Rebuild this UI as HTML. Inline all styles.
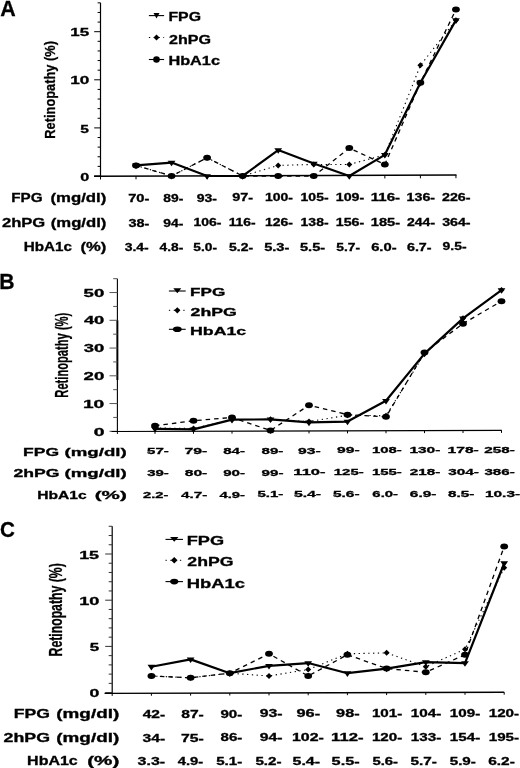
<!DOCTYPE html>
<html><head><meta charset="utf-8"><style>
html,body{margin:0;padding:0;background:#fff;width:520px;height:768px;overflow:hidden}
svg{display:block;filter:grayscale(1)}
text{font-family:"Liberation Sans",sans-serif;font-weight:bold;fill:#000;stroke:#000;stroke-width:0.3px}
</style></head><body>
<svg width="520" height="768" viewBox="0 0 520 768">
<rect width="520" height="768" fill="#fff"/>
<line x1="100.50" y1="2.84" x2="100.50" y2="176.50" stroke="#000" stroke-width="1.2" />
<line x1="94.20" y1="176.00" x2="100.50" y2="176.00" stroke="#000" stroke-width="1.0" />
<line x1="94.20" y1="127.90" x2="100.50" y2="127.90" stroke="#000" stroke-width="1.0" />
<line x1="94.20" y1="79.80" x2="100.50" y2="79.80" stroke="#000" stroke-width="1.0" />
<line x1="94.20" y1="31.70" x2="100.50" y2="31.70" stroke="#000" stroke-width="1.0" />
<line x1="97.60" y1="166.38" x2="100.50" y2="166.38" stroke="#000" stroke-width="1.0" />
<line x1="97.60" y1="156.76" x2="100.50" y2="156.76" stroke="#000" stroke-width="1.0" />
<line x1="97.60" y1="147.14" x2="100.50" y2="147.14" stroke="#000" stroke-width="1.0" />
<line x1="97.60" y1="137.52" x2="100.50" y2="137.52" stroke="#000" stroke-width="1.0" />
<line x1="97.60" y1="118.28" x2="100.50" y2="118.28" stroke="#000" stroke-width="1.0" />
<line x1="97.60" y1="108.66" x2="100.50" y2="108.66" stroke="#000" stroke-width="1.0" />
<line x1="97.60" y1="99.04" x2="100.50" y2="99.04" stroke="#000" stroke-width="1.0" />
<line x1="97.60" y1="89.42" x2="100.50" y2="89.42" stroke="#000" stroke-width="1.0" />
<line x1="97.60" y1="70.18" x2="100.50" y2="70.18" stroke="#000" stroke-width="1.0" />
<line x1="97.60" y1="60.56" x2="100.50" y2="60.56" stroke="#000" stroke-width="1.0" />
<line x1="97.60" y1="50.94" x2="100.50" y2="50.94" stroke="#000" stroke-width="1.0" />
<line x1="97.60" y1="41.32" x2="100.50" y2="41.32" stroke="#000" stroke-width="1.0" />
<line x1="97.60" y1="22.08" x2="100.50" y2="22.08" stroke="#000" stroke-width="1.0" />
<line x1="97.60" y1="12.46" x2="100.50" y2="12.46" stroke="#000" stroke-width="1.0" />
<line x1="97.60" y1="2.84" x2="100.50" y2="2.84" stroke="#000" stroke-width="1.0" />
<line x1="94.00" y1="176.30" x2="456.50" y2="175.00" stroke="#000" stroke-width="1.4" />
<line x1="100.50" y1="176.28" x2="100.50" y2="179.48" stroke="#000" stroke-width="1.0" />
<line x1="136.00" y1="176.15" x2="136.00" y2="179.35" stroke="#000" stroke-width="1.0" />
<line x1="171.55" y1="176.02" x2="171.55" y2="179.22" stroke="#000" stroke-width="1.0" />
<line x1="207.10" y1="175.89" x2="207.10" y2="179.09" stroke="#000" stroke-width="1.0" />
<line x1="242.65" y1="175.77" x2="242.65" y2="178.97" stroke="#000" stroke-width="1.0" />
<line x1="278.20" y1="175.64" x2="278.20" y2="178.84" stroke="#000" stroke-width="1.0" />
<line x1="313.75" y1="175.51" x2="313.75" y2="178.71" stroke="#000" stroke-width="1.0" />
<line x1="349.30" y1="175.38" x2="349.30" y2="178.58" stroke="#000" stroke-width="1.0" />
<line x1="384.85" y1="175.26" x2="384.85" y2="178.46" stroke="#000" stroke-width="1.0" />
<line x1="420.40" y1="175.13" x2="420.40" y2="178.33" stroke="#000" stroke-width="1.0" />
<line x1="455.95" y1="175.00" x2="455.95" y2="178.20" stroke="#000" stroke-width="1.0" />
<polyline points="136.00,165.42 171.55,176.00 207.10,157.72 242.65,176.00 278.20,165.42 313.75,164.46 349.30,164.46 384.85,154.84 420.40,65.37 455.95,20.16" fill="none" stroke="#000" stroke-width="1.1" stroke-linejoin="round" stroke-dasharray="1.3 3.5" stroke-linecap="butt"/>
<polyline points="136.00,165.42 171.55,176.00 207.10,157.72 242.65,176.00 278.20,176.00 313.75,176.00 349.30,148.10 384.85,164.46 420.40,82.69 455.95,9.57" fill="none" stroke="#000" stroke-width="1.3" stroke-linejoin="round" stroke-dasharray="4.5 4"/>
<polyline points="136.00,165.42 171.55,162.53 207.10,176.00 242.65,176.00 278.20,150.03 313.75,163.49 349.30,176.00 384.85,154.84 420.40,82.69 455.95,20.16" fill="none" stroke="#000" stroke-width="2.2" stroke-linejoin="round" />
<path d="M136.00,162.42 L139.00,165.42 L136.00,168.42 L133.00,165.42 Z" fill="#000"/>
<path d="M171.55,173.00 L174.55,176.00 L171.55,179.00 L168.55,176.00 Z" fill="#000"/>
<path d="M207.10,154.72 L210.10,157.72 L207.10,160.72 L204.10,157.72 Z" fill="#000"/>
<path d="M242.65,173.00 L245.65,176.00 L242.65,179.00 L239.65,176.00 Z" fill="#000"/>
<path d="M278.20,162.42 L281.20,165.42 L278.20,168.42 L275.20,165.42 Z" fill="#000"/>
<path d="M313.75,161.46 L316.75,164.46 L313.75,167.46 L310.75,164.46 Z" fill="#000"/>
<path d="M349.30,161.46 L352.30,164.46 L349.30,167.46 L346.30,164.46 Z" fill="#000"/>
<path d="M384.85,151.84 L387.85,154.84 L384.85,157.84 L381.85,154.84 Z" fill="#000"/>
<path d="M420.40,62.37 L423.40,65.37 L420.40,68.37 L417.40,65.37 Z" fill="#000"/>
<path d="M455.95,17.16 L458.95,20.16 L455.95,23.16 L452.95,20.16 Z" fill="#000"/>
<ellipse cx="136.00" cy="165.42" rx="3.90" ry="3.00" fill="#000"/>
<ellipse cx="171.55" cy="176.00" rx="3.90" ry="3.00" fill="#000"/>
<ellipse cx="207.10" cy="157.72" rx="3.90" ry="3.00" fill="#000"/>
<ellipse cx="242.65" cy="176.00" rx="3.90" ry="3.00" fill="#000"/>
<ellipse cx="278.20" cy="176.00" rx="3.90" ry="3.00" fill="#000"/>
<ellipse cx="313.75" cy="176.00" rx="3.90" ry="3.00" fill="#000"/>
<ellipse cx="349.30" cy="148.10" rx="3.90" ry="3.00" fill="#000"/>
<ellipse cx="384.85" cy="164.46" rx="3.90" ry="3.00" fill="#000"/>
<ellipse cx="420.40" cy="82.69" rx="3.90" ry="3.00" fill="#000"/>
<ellipse cx="455.95" cy="9.57" rx="3.90" ry="3.00" fill="#000"/>
<path d="M132.10,163.55 L139.90,163.55 L136.00,169.15 Z" fill="#000"/>
<path d="M167.65,160.67 L175.45,160.67 L171.55,166.27 Z" fill="#000"/>
<path d="M203.20,174.13 L211.00,174.13 L207.10,179.73 Z" fill="#000"/>
<path d="M238.75,174.13 L246.55,174.13 L242.65,179.73 Z" fill="#000"/>
<path d="M274.30,148.16 L282.10,148.16 L278.20,153.76 Z" fill="#000"/>
<path d="M309.85,161.63 L317.65,161.63 L313.75,167.23 Z" fill="#000"/>
<path d="M345.40,174.13 L353.20,174.13 L349.30,179.73 Z" fill="#000"/>
<path d="M380.95,152.97 L388.75,152.97 L384.85,158.57 Z" fill="#000"/>
<path d="M416.50,80.82 L424.30,80.82 L420.40,86.42 Z" fill="#000"/>
<path d="M452.05,18.29 L459.85,18.29 L455.95,23.89 Z" fill="#000"/>
<line x1="117.40" y1="278.68" x2="117.40" y2="431.80" stroke="#000" stroke-width="1.1" />
<line x1="117.40" y1="320.30" x2="117.40" y2="379.96" stroke="#000" stroke-width="1.9" />
<line x1="109.50" y1="431.30" x2="117.40" y2="431.30" stroke="#555" stroke-width="1.0" />
<line x1="109.50" y1="403.55" x2="117.40" y2="403.55" stroke="#555" stroke-width="1.0" />
<line x1="109.50" y1="375.80" x2="117.40" y2="375.80" stroke="#555" stroke-width="1.0" />
<line x1="109.50" y1="348.05" x2="117.40" y2="348.05" stroke="#555" stroke-width="1.0" />
<line x1="109.50" y1="320.30" x2="117.40" y2="320.30" stroke="#555" stroke-width="1.0" />
<line x1="109.50" y1="292.55" x2="117.40" y2="292.55" stroke="#555" stroke-width="1.0" />
<line x1="113.20" y1="417.43" x2="117.40" y2="417.43" stroke="#555" stroke-width="1.0" />
<line x1="113.20" y1="389.68" x2="117.40" y2="389.68" stroke="#555" stroke-width="1.0" />
<line x1="113.20" y1="361.93" x2="117.40" y2="361.93" stroke="#555" stroke-width="1.0" />
<line x1="113.20" y1="334.18" x2="117.40" y2="334.18" stroke="#555" stroke-width="1.0" />
<line x1="113.20" y1="306.43" x2="117.40" y2="306.43" stroke="#555" stroke-width="1.0" />
<line x1="113.20" y1="278.68" x2="117.40" y2="278.68" stroke="#555" stroke-width="1.0" />
<line x1="111.50" y1="431.50" x2="501.80" y2="430.40" stroke="#000" stroke-width="1.15" />
<line x1="117.40" y1="431.48" x2="117.40" y2="433.98" stroke="#000" stroke-width="1.0" />
<line x1="155.00" y1="431.38" x2="155.00" y2="433.88" stroke="#000" stroke-width="1.0" />
<line x1="193.50" y1="431.27" x2="193.50" y2="433.77" stroke="#000" stroke-width="1.0" />
<line x1="232.00" y1="431.16" x2="232.00" y2="433.66" stroke="#000" stroke-width="1.0" />
<line x1="270.50" y1="431.05" x2="270.50" y2="433.55" stroke="#000" stroke-width="1.0" />
<line x1="309.00" y1="430.94" x2="309.00" y2="433.44" stroke="#000" stroke-width="1.0" />
<line x1="347.50" y1="430.83" x2="347.50" y2="433.33" stroke="#000" stroke-width="1.0" />
<line x1="386.00" y1="430.73" x2="386.00" y2="433.23" stroke="#000" stroke-width="1.0" />
<line x1="424.50" y1="430.62" x2="424.50" y2="433.12" stroke="#000" stroke-width="1.0" />
<line x1="463.00" y1="430.51" x2="463.00" y2="433.01" stroke="#000" stroke-width="1.0" />
<line x1="501.50" y1="430.40" x2="501.50" y2="432.90" stroke="#000" stroke-width="1.0" />
<polyline points="155.00,427.97 193.50,428.53 232.00,419.65 270.50,419.37 309.00,421.59 347.50,415.21 386.00,415.76 424.50,353.60 463.00,318.36 501.50,290.05" fill="none" stroke="#000" stroke-width="1.1" stroke-linejoin="round" stroke-dasharray="1.3 3.5" stroke-linecap="butt"/>
<polyline points="155.00,425.75 193.50,420.75 232.00,417.43 270.50,430.47 309.00,405.22 347.50,414.65 386.00,416.87 424.50,352.49 463.00,323.63 501.50,301.15" fill="none" stroke="#000" stroke-width="1.3" stroke-linejoin="round" stroke-dasharray="4.5 4"/>
<polyline points="155.00,428.80 193.50,429.36 232.00,419.65 270.50,419.37 309.00,422.42 347.50,421.59 386.00,400.78 424.50,353.60 463.00,318.36 501.50,290.05" fill="none" stroke="#000" stroke-width="2.2" stroke-linejoin="round" />
<path d="M155.00,424.97 L158.00,427.97 L155.00,430.97 L152.00,427.97 Z" fill="#000"/>
<path d="M193.50,425.53 L196.50,428.53 L193.50,431.53 L190.50,428.53 Z" fill="#000"/>
<path d="M232.00,416.65 L235.00,419.65 L232.00,422.65 L229.00,419.65 Z" fill="#000"/>
<path d="M270.50,416.37 L273.50,419.37 L270.50,422.37 L267.50,419.37 Z" fill="#000"/>
<path d="M309.00,418.59 L312.00,421.59 L309.00,424.59 L306.00,421.59 Z" fill="#000"/>
<path d="M347.50,412.21 L350.50,415.21 L347.50,418.21 L344.50,415.21 Z" fill="#000"/>
<path d="M386.00,412.76 L389.00,415.76 L386.00,418.76 L383.00,415.76 Z" fill="#000"/>
<path d="M424.50,350.60 L427.50,353.60 L424.50,356.60 L421.50,353.60 Z" fill="#000"/>
<path d="M463.00,315.36 L466.00,318.36 L463.00,321.36 L460.00,318.36 Z" fill="#000"/>
<path d="M501.50,287.05 L504.50,290.05 L501.50,293.05 L498.50,290.05 Z" fill="#000"/>
<ellipse cx="155.00" cy="425.75" rx="3.90" ry="3.00" fill="#000"/>
<ellipse cx="193.50" cy="420.75" rx="3.90" ry="3.00" fill="#000"/>
<ellipse cx="232.00" cy="417.43" rx="3.90" ry="3.00" fill="#000"/>
<ellipse cx="270.50" cy="430.47" rx="3.90" ry="3.00" fill="#000"/>
<ellipse cx="309.00" cy="405.22" rx="3.90" ry="3.00" fill="#000"/>
<ellipse cx="347.50" cy="414.65" rx="3.90" ry="3.00" fill="#000"/>
<ellipse cx="386.00" cy="416.87" rx="3.90" ry="3.00" fill="#000"/>
<ellipse cx="424.50" cy="352.49" rx="3.90" ry="3.00" fill="#000"/>
<ellipse cx="463.00" cy="323.63" rx="3.90" ry="3.00" fill="#000"/>
<ellipse cx="501.50" cy="301.15" rx="3.90" ry="3.00" fill="#000"/>
<path d="M151.10,426.94 L158.90,426.94 L155.00,432.54 Z" fill="#000"/>
<path d="M189.60,427.49 L197.40,427.49 L193.50,433.09 Z" fill="#000"/>
<path d="M228.10,417.78 L235.90,417.78 L232.00,423.38 Z" fill="#000"/>
<path d="M266.60,417.50 L274.40,417.50 L270.50,423.10 Z" fill="#000"/>
<path d="M305.10,420.55 L312.90,420.55 L309.00,426.15 Z" fill="#000"/>
<path d="M343.60,419.72 L351.40,419.72 L347.50,425.32 Z" fill="#000"/>
<path d="M382.10,398.91 L389.90,398.91 L386.00,404.51 Z" fill="#000"/>
<path d="M420.60,351.73 L428.40,351.73 L424.50,357.33 Z" fill="#000"/>
<path d="M459.10,316.49 L466.90,316.49 L463.00,322.09 Z" fill="#000"/>
<path d="M497.60,288.19 L505.40,288.19 L501.50,293.79 Z" fill="#000"/>
<line x1="112.20" y1="526.28" x2="112.20" y2="693.10" stroke="#000" stroke-width="1.2" />
<line x1="105.20" y1="692.60" x2="112.20" y2="692.60" stroke="#333" stroke-width="1.0" />
<line x1="105.20" y1="646.40" x2="112.20" y2="646.40" stroke="#333" stroke-width="1.0" />
<line x1="105.20" y1="600.20" x2="112.20" y2="600.20" stroke="#333" stroke-width="1.0" />
<line x1="105.20" y1="554.00" x2="112.20" y2="554.00" stroke="#333" stroke-width="1.0" />
<line x1="108.70" y1="683.36" x2="112.20" y2="683.36" stroke="#333" stroke-width="1.0" />
<line x1="108.70" y1="674.12" x2="112.20" y2="674.12" stroke="#333" stroke-width="1.0" />
<line x1="108.70" y1="664.88" x2="112.20" y2="664.88" stroke="#333" stroke-width="1.0" />
<line x1="108.70" y1="655.64" x2="112.20" y2="655.64" stroke="#333" stroke-width="1.0" />
<line x1="108.70" y1="637.16" x2="112.20" y2="637.16" stroke="#333" stroke-width="1.0" />
<line x1="108.70" y1="627.92" x2="112.20" y2="627.92" stroke="#333" stroke-width="1.0" />
<line x1="108.70" y1="618.68" x2="112.20" y2="618.68" stroke="#333" stroke-width="1.0" />
<line x1="108.70" y1="609.44" x2="112.20" y2="609.44" stroke="#333" stroke-width="1.0" />
<line x1="108.70" y1="590.96" x2="112.20" y2="590.96" stroke="#333" stroke-width="1.0" />
<line x1="108.70" y1="581.72" x2="112.20" y2="581.72" stroke="#333" stroke-width="1.0" />
<line x1="108.70" y1="572.48" x2="112.20" y2="572.48" stroke="#333" stroke-width="1.0" />
<line x1="108.70" y1="563.24" x2="112.20" y2="563.24" stroke="#333" stroke-width="1.0" />
<line x1="108.70" y1="544.76" x2="112.20" y2="544.76" stroke="#333" stroke-width="1.0" />
<line x1="108.70" y1="535.52" x2="112.20" y2="535.52" stroke="#333" stroke-width="1.0" />
<line x1="108.70" y1="526.28" x2="112.20" y2="526.28" stroke="#333" stroke-width="1.0" />
<line x1="104.50" y1="693.40" x2="504.20" y2="692.20" stroke="#000" stroke-width="1.4" />
<line x1="112.20" y1="693.38" x2="112.20" y2="695.88" stroke="#000" stroke-width="1.0" />
<line x1="151.40" y1="693.26" x2="151.40" y2="695.76" stroke="#000" stroke-width="1.0" />
<line x1="190.60" y1="693.14" x2="190.60" y2="695.64" stroke="#000" stroke-width="1.0" />
<line x1="229.80" y1="693.02" x2="229.80" y2="695.52" stroke="#000" stroke-width="1.0" />
<line x1="269.00" y1="692.91" x2="269.00" y2="695.41" stroke="#000" stroke-width="1.0" />
<line x1="308.20" y1="692.79" x2="308.20" y2="695.29" stroke="#000" stroke-width="1.0" />
<line x1="347.40" y1="692.67" x2="347.40" y2="695.17" stroke="#000" stroke-width="1.0" />
<line x1="386.60" y1="692.55" x2="386.60" y2="695.05" stroke="#000" stroke-width="1.0" />
<line x1="425.80" y1="692.44" x2="425.80" y2="694.94" stroke="#000" stroke-width="1.0" />
<line x1="465.00" y1="692.32" x2="465.00" y2="694.82" stroke="#000" stroke-width="1.0" />
<line x1="504.20" y1="692.20" x2="504.20" y2="694.70" stroke="#000" stroke-width="1.0" />
<polyline points="151.40,675.97 190.60,677.82 229.80,673.20 269.00,675.97 308.20,669.50 347.40,653.79 386.60,652.87 425.80,666.73 465.00,649.17 504.20,567.86" fill="none" stroke="#000" stroke-width="1.1" stroke-linejoin="round" stroke-dasharray="1.3 3.5" stroke-linecap="butt"/>
<polyline points="151.40,675.97 190.60,677.82 229.80,673.20 269.00,653.79 308.20,675.97 347.40,654.72 386.60,668.58 425.80,672.27 465.00,654.72 504.20,546.61" fill="none" stroke="#000" stroke-width="1.3" stroke-linejoin="round" stroke-dasharray="4.5 4"/>
<polyline points="151.40,666.73 190.60,659.34 229.80,673.20 269.00,665.80 308.20,663.03 347.40,673.20 386.60,668.58 425.80,662.11 465.00,663.03 504.20,563.24" fill="none" stroke="#000" stroke-width="2.2" stroke-linejoin="round" />
<path d="M151.40,672.97 L154.40,675.97 L151.40,678.97 L148.40,675.97 Z" fill="#000"/>
<path d="M190.60,674.82 L193.60,677.82 L190.60,680.82 L187.60,677.82 Z" fill="#000"/>
<path d="M229.80,670.20 L232.80,673.20 L229.80,676.20 L226.80,673.20 Z" fill="#000"/>
<path d="M269.00,672.97 L272.00,675.97 L269.00,678.97 L266.00,675.97 Z" fill="#000"/>
<path d="M308.20,666.50 L311.20,669.50 L308.20,672.50 L305.20,669.50 Z" fill="#000"/>
<path d="M347.40,650.79 L350.40,653.79 L347.40,656.79 L344.40,653.79 Z" fill="#000"/>
<path d="M386.60,649.87 L389.60,652.87 L386.60,655.87 L383.60,652.87 Z" fill="#000"/>
<path d="M425.80,663.73 L428.80,666.73 L425.80,669.73 L422.80,666.73 Z" fill="#000"/>
<path d="M465.00,646.17 L468.00,649.17 L465.00,652.17 L462.00,649.17 Z" fill="#000"/>
<path d="M504.20,564.86 L507.20,567.86 L504.20,570.86 L501.20,567.86 Z" fill="#000"/>
<ellipse cx="151.40" cy="675.97" rx="3.90" ry="3.00" fill="#000"/>
<ellipse cx="190.60" cy="677.82" rx="3.90" ry="3.00" fill="#000"/>
<ellipse cx="229.80" cy="673.20" rx="3.90" ry="3.00" fill="#000"/>
<ellipse cx="269.00" cy="653.79" rx="3.90" ry="3.00" fill="#000"/>
<ellipse cx="308.20" cy="675.97" rx="3.90" ry="3.00" fill="#000"/>
<ellipse cx="347.40" cy="654.72" rx="3.90" ry="3.00" fill="#000"/>
<ellipse cx="386.60" cy="668.58" rx="3.90" ry="3.00" fill="#000"/>
<ellipse cx="425.80" cy="672.27" rx="3.90" ry="3.00" fill="#000"/>
<ellipse cx="465.00" cy="654.72" rx="3.90" ry="3.00" fill="#000"/>
<ellipse cx="504.20" cy="546.61" rx="3.90" ry="3.00" fill="#000"/>
<path d="M147.50,664.86 L155.30,664.86 L151.40,670.46 Z" fill="#000"/>
<path d="M186.70,657.47 L194.50,657.47 L190.60,663.07 Z" fill="#000"/>
<path d="M225.90,671.33 L233.70,671.33 L229.80,676.93 Z" fill="#000"/>
<path d="M265.10,663.94 L272.90,663.94 L269.00,669.54 Z" fill="#000"/>
<path d="M304.30,661.17 L312.10,661.17 L308.20,666.77 Z" fill="#000"/>
<path d="M343.50,671.33 L351.30,671.33 L347.40,676.93 Z" fill="#000"/>
<path d="M382.70,666.71 L390.50,666.71 L386.60,672.31 Z" fill="#000"/>
<path d="M421.90,660.24 L429.70,660.24 L425.80,665.84 Z" fill="#000"/>
<path d="M461.10,661.17 L468.90,661.17 L465.00,666.77 Z" fill="#000"/>
<path d="M500.30,561.37 L508.10,561.37 L504.20,566.97 Z" fill="#000"/>
<text x="0.17" y="15.70" font-size="22.38" textLength="15.50" lengthAdjust="spacingAndGlyphs">A</text>
<text x="-0.71" y="289.00" font-size="21.80" textLength="15.28" lengthAdjust="spacingAndGlyphs">B</text>
<text x="0.05" y="536.50" font-size="22.38" textLength="14.91" lengthAdjust="spacingAndGlyphs">C</text>
<text x="70.23" y="36.30" font-size="11.05" textLength="18.84" lengthAdjust="spacingAndGlyphs">15</text>
<text x="70.22" y="84.40" font-size="11.05" textLength="19.08" lengthAdjust="spacingAndGlyphs">10</text>
<text x="80.32" y="132.50" font-size="11.05" textLength="8.61" lengthAdjust="spacingAndGlyphs">5</text>
<text x="80.16" y="181.10" font-size="11.05" textLength="9.00" lengthAdjust="spacingAndGlyphs">0</text>
<text x="83.63" y="296.55" font-size="10.17" textLength="20.63" lengthAdjust="spacingAndGlyphs">50</text>
<text x="83.92" y="324.30" font-size="10.17" textLength="20.33" lengthAdjust="spacingAndGlyphs">40</text>
<text x="83.78" y="352.05" font-size="10.17" textLength="20.48" lengthAdjust="spacingAndGlyphs">30</text>
<text x="83.55" y="379.80" font-size="10.17" textLength="20.71" lengthAdjust="spacingAndGlyphs">20</text>
<text x="82.99" y="407.55" font-size="10.17" textLength="21.29" lengthAdjust="spacingAndGlyphs">10</text>
<text x="93.73" y="435.90" font-size="10.17" textLength="10.76" lengthAdjust="spacingAndGlyphs">0</text>
<text x="79.17" y="558.80" font-size="10.47" textLength="19.93" lengthAdjust="spacingAndGlyphs">15</text>
<text x="79.16" y="605.00" font-size="10.47" textLength="20.19" lengthAdjust="spacingAndGlyphs">10</text>
<text x="89.68" y="651.20" font-size="10.47" textLength="9.39" lengthAdjust="spacingAndGlyphs">5</text>
<text x="89.50" y="697.40" font-size="10.47" textLength="9.82" lengthAdjust="spacingAndGlyphs">0</text>
<text transform="translate(55.00,138.66) rotate(-90)" x="0" y="0" font-size="15.41" textLength="97.60" lengthAdjust="spacingAndGlyphs">Retinopathy (%)</text>
<text transform="translate(68.10,397.65) rotate(-90)" x="0" y="0" font-size="18.17" textLength="84.90" lengthAdjust="spacingAndGlyphs">Retinopathy (%)</text>
<text transform="translate(62.00,656.42) rotate(-90)" x="0" y="0" font-size="18.17" textLength="93.13" lengthAdjust="spacingAndGlyphs">Retinopathy (%)</text>
<line x1="148.90" y1="15.60" x2="164.10" y2="15.60" stroke="#000" stroke-width="1.1" />
<path d="M153.50,13.00 L159.50,13.00 L156.50,18.50 Z" fill="#000"/>
<text x="168.44" y="21.25" font-size="12.72" textLength="32.54" lengthAdjust="spacingAndGlyphs">FPG</text>
<line x1="148.90" y1="37.50" x2="164.10" y2="37.50" stroke="#000" stroke-width="1.0" stroke-dasharray="1.3 3.5"/>
<path d="M156.50,34.50 L159.50,37.50 L156.50,40.50 L153.50,37.50 Z" fill="#000"/>
<text x="168.94" y="44.20" font-size="12.94" textLength="42.06" lengthAdjust="spacingAndGlyphs">2hPG</text>
<line x1="148.90" y1="59.50" x2="164.10" y2="59.50" stroke="#000" stroke-width="1.1" />
<ellipse cx="156.50" cy="59.50" rx="3.3" ry="3.2" fill="#000"/>
<text x="168.41" y="65.40" font-size="12.65" textLength="51.57" lengthAdjust="spacingAndGlyphs">HbA1c</text>
<line x1="168.90" y1="291.00" x2="185.70" y2="291.00" stroke="#000" stroke-width="1.1" />
<path d="M173.30,288.30 L181.30,288.30 L177.30,293.30 Z" fill="#000"/>
<text x="190.10" y="295.50" font-size="10.90" textLength="35.21" lengthAdjust="spacingAndGlyphs">FPG</text>
<line x1="168.90" y1="310.30" x2="185.70" y2="310.30" stroke="#000" stroke-width="1.0" stroke-dasharray="1.3 3.5"/>
<path d="M177.30,307.20 L180.40,310.30 L177.30,313.40 L174.20,310.30 Z" fill="#000"/>
<text x="190.64" y="315.50" font-size="10.90" textLength="46.21" lengthAdjust="spacingAndGlyphs">2hPG</text>
<line x1="168.90" y1="329.30" x2="185.70" y2="329.30" stroke="#000" stroke-width="1.1" />
<ellipse cx="177.30" cy="329.30" rx="4.4" ry="2.8" fill="#000"/>
<text x="190.06" y="334.50" font-size="11.34" textLength="56.21" lengthAdjust="spacingAndGlyphs">HbA1c</text>
<line x1="165.50" y1="539.40" x2="183.00" y2="539.40" stroke="#000" stroke-width="1.1" />
<path d="M170.05,537.00 L178.45,537.00 L174.25,541.70 Z" fill="#000"/>
<text x="186.78" y="545.00" font-size="12.72" textLength="37.34" lengthAdjust="spacingAndGlyphs">FPG</text>
<line x1="165.50" y1="560.30" x2="183.00" y2="560.30" stroke="#000" stroke-width="1.0" stroke-dasharray="1.3 3.5"/>
<path d="M174.25,557.00 L177.55,560.30 L174.25,563.60 L170.95,560.30 Z" fill="#000"/>
<text x="187.39" y="566.25" font-size="12.72" textLength="46.21" lengthAdjust="spacingAndGlyphs">2hPG</text>
<line x1="165.50" y1="581.60" x2="183.00" y2="581.60" stroke="#000" stroke-width="1.1" />
<ellipse cx="174.25" cy="581.60" rx="4.1" ry="2.8" fill="#000"/>
<text x="186.77" y="587.50" font-size="12.72" textLength="58.27" lengthAdjust="spacingAndGlyphs">HbA1c</text>
<text x="11.28" y="202.00" font-size="12.50" textLength="31.37" lengthAdjust="spacingAndGlyphs">FPG</text>
<text x="50.47" y="202.00" font-size="12.50" textLength="55.87" lengthAdjust="spacingAndGlyphs">(mg/dl)</text>
<text x="1.93" y="226.90" font-size="12.50" textLength="43.30" lengthAdjust="spacingAndGlyphs">2hPG</text>
<text x="50.77" y="226.90" font-size="12.50" textLength="55.66" lengthAdjust="spacingAndGlyphs">(mg/dl)</text>
<text x="23.78" y="251.40" font-size="12.50" textLength="48.16" lengthAdjust="spacingAndGlyphs">HbA1c</text>
<text x="80.57" y="251.40" font-size="12.50" textLength="25.86" lengthAdjust="spacingAndGlyphs">(%)</text>
<text x="23.13" y="455.50" font-size="11.19" textLength="35.95" lengthAdjust="spacingAndGlyphs">FPG</text>
<text x="64.47" y="455.50" font-size="11.19" textLength="62.26" lengthAdjust="spacingAndGlyphs">(mg/dl)</text>
<text x="13.59" y="477.20" font-size="11.19" textLength="46.00" lengthAdjust="spacingAndGlyphs">2hPG</text>
<text x="64.47" y="477.20" font-size="11.19" textLength="62.26" lengthAdjust="spacingAndGlyphs">(mg/dl)</text>
<text x="37.15" y="498.80" font-size="11.19" textLength="49.50" lengthAdjust="spacingAndGlyphs">HbA1c</text>
<text x="94.77" y="498.80" font-size="11.19" textLength="32.05" lengthAdjust="spacingAndGlyphs">(%)</text>
<text x="13.82" y="717.50" font-size="11.92" textLength="36.17" lengthAdjust="spacingAndGlyphs">FPG</text>
<text x="56.26" y="717.50" font-size="11.92" textLength="62.98" lengthAdjust="spacingAndGlyphs">(mg/dl)</text>
<text x="3.58" y="741.50" font-size="11.92" textLength="46.42" lengthAdjust="spacingAndGlyphs">2hPG</text>
<text x="56.26" y="741.50" font-size="11.92" textLength="62.98" lengthAdjust="spacingAndGlyphs">(mg/dl)</text>
<text x="27.13" y="765.00" font-size="11.92" textLength="50.64" lengthAdjust="spacingAndGlyphs">HbA1c</text>
<text x="87.17" y="765.00" font-size="11.92" textLength="32.16" lengthAdjust="spacingAndGlyphs">(%)</text>
<text x="128.17" y="201.73" font-size="10.17" textLength="21.22" lengthAdjust="spacingAndGlyphs">70-</text>
<text x="163.36" y="201.63" font-size="10.17" textLength="19.99" lengthAdjust="spacingAndGlyphs">89-</text>
<text x="196.81" y="201.53" font-size="10.17" textLength="20.25" lengthAdjust="spacingAndGlyphs">93-</text>
<text x="232.30" y="201.42" font-size="10.17" textLength="20.88" lengthAdjust="spacingAndGlyphs">97-</text>
<text x="264.92" y="201.32" font-size="10.17" textLength="27.94" lengthAdjust="spacingAndGlyphs">100-</text>
<text x="300.62" y="201.22" font-size="10.17" textLength="27.94" lengthAdjust="spacingAndGlyphs">105-</text>
<text x="335.80" y="201.11" font-size="10.17" textLength="28.47" lengthAdjust="spacingAndGlyphs">109-</text>
<text x="370.78" y="201.00" font-size="10.17" textLength="29.31" lengthAdjust="spacingAndGlyphs">116-</text>
<text x="406.60" y="200.90" font-size="10.17" textLength="28.47" lengthAdjust="spacingAndGlyphs">136-</text>
<text x="442.01" y="200.79" font-size="10.17" textLength="28.57" lengthAdjust="spacingAndGlyphs">226-</text>
<text x="128.47" y="226.63" font-size="10.17" textLength="20.91" lengthAdjust="spacingAndGlyphs">38-</text>
<text x="163.32" y="226.53" font-size="10.17" textLength="20.04" lengthAdjust="spacingAndGlyphs">94-</text>
<text x="193.42" y="226.44" font-size="10.17" textLength="27.94" lengthAdjust="spacingAndGlyphs">106-</text>
<text x="228.65" y="226.33" font-size="10.17" textLength="26.88" lengthAdjust="spacingAndGlyphs">116-</text>
<text x="264.92" y="226.22" font-size="10.17" textLength="27.94" lengthAdjust="spacingAndGlyphs">126-</text>
<text x="300.62" y="226.12" font-size="10.17" textLength="27.94" lengthAdjust="spacingAndGlyphs">138-</text>
<text x="335.80" y="226.01" font-size="10.17" textLength="28.47" lengthAdjust="spacingAndGlyphs">156-</text>
<text x="370.78" y="225.90" font-size="10.17" textLength="29.31" lengthAdjust="spacingAndGlyphs">185-</text>
<text x="407.01" y="225.80" font-size="10.17" textLength="28.05" lengthAdjust="spacingAndGlyphs">244-</text>
<text x="442.17" y="225.69" font-size="10.17" textLength="28.39" lengthAdjust="spacingAndGlyphs">364-</text>
<text x="124.68" y="251.34" font-size="10.17" textLength="24.08" lengthAdjust="spacingAndGlyphs">3.4-</text>
<text x="159.49" y="251.24" font-size="10.17" textLength="23.86" lengthAdjust="spacingAndGlyphs">4.8-</text>
<text x="193.38" y="251.14" font-size="10.17" textLength="23.67" lengthAdjust="spacingAndGlyphs">5.0-</text>
<text x="229.07" y="251.03" font-size="10.17" textLength="24.09" lengthAdjust="spacingAndGlyphs">5.2-</text>
<text x="264.15" y="250.93" font-size="10.17" textLength="25.24" lengthAdjust="spacingAndGlyphs">5.3-</text>
<text x="299.95" y="250.82" font-size="10.17" textLength="25.24" lengthAdjust="spacingAndGlyphs">5.5-</text>
<text x="336.27" y="250.71" font-size="10.17" textLength="23.88" lengthAdjust="spacingAndGlyphs">5.7-</text>
<text x="371.16" y="250.60" font-size="10.17" textLength="25.43" lengthAdjust="spacingAndGlyphs">6.0-</text>
<text x="406.98" y="250.50" font-size="10.17" textLength="24.59" lengthAdjust="spacingAndGlyphs">6.7-</text>
<text x="442.52" y="250.39" font-size="10.17" textLength="24.04" lengthAdjust="spacingAndGlyphs">9.5-</text>
<text x="147.04" y="453.98" font-size="9.30" textLength="21.77" lengthAdjust="spacingAndGlyphs">57-</text>
<text x="184.52" y="453.86" font-size="9.30" textLength="22.81" lengthAdjust="spacingAndGlyphs">79-</text>
<text x="223.22" y="453.75" font-size="9.30" textLength="21.78" lengthAdjust="spacingAndGlyphs">84-</text>
<text x="261.62" y="453.63" font-size="9.30" textLength="21.78" lengthAdjust="spacingAndGlyphs">89-</text>
<text x="297.96" y="453.52" font-size="9.30" textLength="22.67" lengthAdjust="spacingAndGlyphs">93-</text>
<text x="336.96" y="453.41" font-size="9.30" textLength="22.67" lengthAdjust="spacingAndGlyphs">99-</text>
<text x="371.96" y="453.30" font-size="9.30" textLength="29.84" lengthAdjust="spacingAndGlyphs">108-</text>
<text x="409.42" y="453.19" font-size="9.30" textLength="31.00" lengthAdjust="spacingAndGlyphs">130-</text>
<text x="447.51" y="453.07" font-size="9.30" textLength="31.31" lengthAdjust="spacingAndGlyphs">178-</text>
<text x="484.27" y="452.97" font-size="9.30" textLength="30.54" lengthAdjust="spacingAndGlyphs">258-</text>
<text x="147.16" y="475.88" font-size="9.30" textLength="21.64" lengthAdjust="spacingAndGlyphs">39-</text>
<text x="184.70" y="475.76" font-size="9.30" textLength="22.62" lengthAdjust="spacingAndGlyphs">80-</text>
<text x="223.18" y="475.65" font-size="9.30" textLength="21.83" lengthAdjust="spacingAndGlyphs">90-</text>
<text x="261.58" y="475.53" font-size="9.30" textLength="21.83" lengthAdjust="spacingAndGlyphs">99-</text>
<text x="293.39" y="475.44" font-size="9.30" textLength="32.16" lengthAdjust="spacingAndGlyphs">110-</text>
<text x="333.86" y="475.32" font-size="9.30" textLength="29.73" lengthAdjust="spacingAndGlyphs">125-</text>
<text x="371.96" y="475.20" font-size="9.30" textLength="29.84" lengthAdjust="spacingAndGlyphs">155-</text>
<text x="409.87" y="475.09" font-size="9.30" textLength="30.54" lengthAdjust="spacingAndGlyphs">218-</text>
<text x="448.15" y="474.97" font-size="9.30" textLength="30.67" lengthAdjust="spacingAndGlyphs">304-</text>
<text x="484.45" y="474.87" font-size="9.30" textLength="30.36" lengthAdjust="spacingAndGlyphs">386-</text>
<text x="142.99" y="497.79" font-size="9.30" textLength="25.30" lengthAdjust="spacingAndGlyphs">2.2-</text>
<text x="180.97" y="497.68" font-size="9.30" textLength="26.34" lengthAdjust="spacingAndGlyphs">4.7-</text>
<text x="219.48" y="497.56" font-size="9.30" textLength="25.52" lengthAdjust="spacingAndGlyphs">4.9-</text>
<text x="257.54" y="497.45" font-size="9.30" textLength="25.86" lengthAdjust="spacingAndGlyphs">5.1-</text>
<text x="293.91" y="497.34" font-size="9.30" textLength="27.22" lengthAdjust="spacingAndGlyphs">5.4-</text>
<text x="333.03" y="497.22" font-size="9.30" textLength="26.59" lengthAdjust="spacingAndGlyphs">5.6-</text>
<text x="372.36" y="497.10" font-size="9.30" textLength="25.64" lengthAdjust="spacingAndGlyphs">6.0-</text>
<text x="409.84" y="496.99" font-size="9.30" textLength="26.58" lengthAdjust="spacingAndGlyphs">6.9-</text>
<text x="448.01" y="496.87" font-size="9.30" textLength="26.40" lengthAdjust="spacingAndGlyphs">8.5-</text>
<text x="485.03" y="496.76" font-size="9.30" textLength="35.09" lengthAdjust="spacingAndGlyphs">10.3-</text>
<text x="142.66" y="717.69" font-size="10.17" textLength="22.46" lengthAdjust="spacingAndGlyphs">42-</text>
<text x="181.20" y="717.62" font-size="10.17" textLength="22.62" lengthAdjust="spacingAndGlyphs">87-</text>
<text x="220.48" y="717.54" font-size="10.17" textLength="21.83" lengthAdjust="spacingAndGlyphs">90-</text>
<text x="259.65" y="717.46" font-size="10.17" textLength="22.78" lengthAdjust="spacingAndGlyphs">93-</text>
<text x="296.53" y="717.39" font-size="10.17" textLength="23.62" lengthAdjust="spacingAndGlyphs">96-</text>
<text x="336.14" y="717.31" font-size="10.17" textLength="23.52" lengthAdjust="spacingAndGlyphs">98-</text>
<text x="371.94" y="717.23" font-size="10.17" textLength="30.36" lengthAdjust="spacingAndGlyphs">101-</text>
<text x="410.84" y="717.16" font-size="10.17" textLength="30.47" lengthAdjust="spacingAndGlyphs">104-</text>
<text x="449.84" y="717.08" font-size="10.17" textLength="30.36" lengthAdjust="spacingAndGlyphs">109-</text>
<text x="488.74" y="717.00" font-size="10.17" textLength="30.36" lengthAdjust="spacingAndGlyphs">120-</text>
<text x="142.54" y="741.59" font-size="10.17" textLength="22.58" lengthAdjust="spacingAndGlyphs">34-</text>
<text x="181.02" y="741.52" font-size="10.17" textLength="22.81" lengthAdjust="spacingAndGlyphs">75-</text>
<text x="220.52" y="741.44" font-size="10.17" textLength="21.78" lengthAdjust="spacingAndGlyphs">86-</text>
<text x="259.65" y="741.36" font-size="10.17" textLength="22.78" lengthAdjust="spacingAndGlyphs">94-</text>
<text x="292.00" y="741.29" font-size="10.17" textLength="31.84" lengthAdjust="spacingAndGlyphs">102-</text>
<text x="331.07" y="741.22" font-size="10.17" textLength="32.58" lengthAdjust="spacingAndGlyphs">112-</text>
<text x="371.94" y="741.13" font-size="10.17" textLength="30.36" lengthAdjust="spacingAndGlyphs">120-</text>
<text x="410.84" y="741.06" font-size="10.17" textLength="30.47" lengthAdjust="spacingAndGlyphs">133-</text>
<text x="449.84" y="740.98" font-size="10.17" textLength="30.36" lengthAdjust="spacingAndGlyphs">154-</text>
<text x="488.74" y="740.90" font-size="10.17" textLength="30.36" lengthAdjust="spacingAndGlyphs">195-</text>
<text x="137.63" y="765.20" font-size="10.17" textLength="27.51" lengthAdjust="spacingAndGlyphs">3.3-</text>
<text x="177.78" y="765.12" font-size="10.17" textLength="25.52" lengthAdjust="spacingAndGlyphs">4.9-</text>
<text x="216.23" y="765.05" font-size="10.17" textLength="26.07" lengthAdjust="spacingAndGlyphs">5.1-</text>
<text x="255.43" y="764.97" font-size="10.17" textLength="26.18" lengthAdjust="spacingAndGlyphs">5.2-</text>
<text x="292.51" y="764.89" font-size="10.17" textLength="27.64" lengthAdjust="spacingAndGlyphs">5.4-</text>
<text x="331.60" y="764.82" font-size="10.17" textLength="28.05" lengthAdjust="spacingAndGlyphs">5.5-</text>
<text x="372.44" y="764.73" font-size="10.17" textLength="25.55" lengthAdjust="spacingAndGlyphs">5.6-</text>
<text x="410.53" y="764.66" font-size="10.17" textLength="26.38" lengthAdjust="spacingAndGlyphs">5.7-</text>
<text x="449.73" y="764.58" font-size="10.17" textLength="26.18" lengthAdjust="spacingAndGlyphs">5.9-</text>
<text x="488.24" y="764.50" font-size="10.17" textLength="26.58" lengthAdjust="spacingAndGlyphs">6.2-</text>
</svg>
</body></html>
